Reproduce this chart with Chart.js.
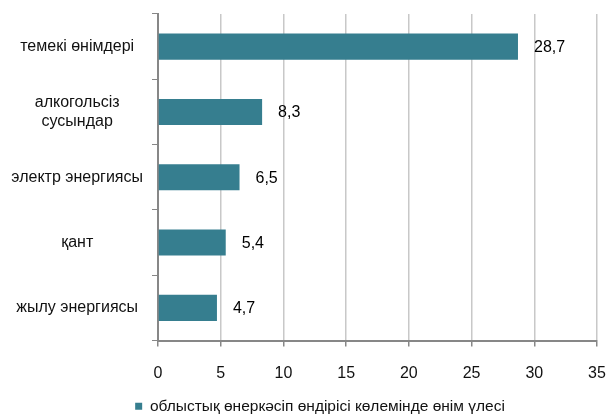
<!DOCTYPE html>
<html>
<head>
<meta charset="utf-8">
<script src="https://cdn.jsdelivr.net/npm/chart.js@4/dist/chart.umd.min.js"></script>
<style>
  html, body { margin: 0; padding: 0; background: #fff; }
  #wrap { width: 608px; height: 414px; }
</style>
</head>
<body>
<div id="wrap"><canvas id="shareChart" width="608" height="414"></canvas></div>
<script>
'use strict';

// ===== DONNÉES =====
const categories = ['темекі өнімдері', ['алкогольсіз', 'сусындар'], 'электр энергиясы', 'қант', 'жылу энергиясы'];
const shareValues = [28.7, 8.3, 6.5, 5.4, 4.7];
const seriesName = 'облыстық өнеркәсіп өндірісі көлемінде өнім үлесі';
const xTicks = [0, 5, 10, 15, 20, 25, 30, 35];

const FONT = '"Liberation Sans", Arial, sans-serif';

// ===== ÉTIQUETTES DE VALEUR =====
const valueLabels = {
    id: 'valueLabels',
    afterDatasetsDraw: function(chart) {
        const ctx = chart.ctx;
        const meta = chart.getDatasetMeta(0);
        ctx.save();
        ctx.font = '16px ' + FONT;
        ctx.fillStyle = '#000';
        ctx.textAlign = 'left';
        ctx.textBaseline = 'middle';
        meta.data.forEach(function(bar, i) {
            const txt = String(shareValues[i]).replace('.', ',');
            ctx.fillText(txt, bar.x + 16, bar.y + 1);
        });
        ctx.restore();
    }
};

// ===== LÉGENDE DÉCALÉE (centrée un peu à droite comme l'original) =====
const legendShift = {
    id: 'legendShift',
    afterLayout: function(chart) {
        if (chart.legend) {
            chart.legend.left += 16;
            chart.legend.right += 16;
        }
    }
};

new Chart(document.getElementById('shareChart'), {
    type: 'bar',
    data: {
        labels: categories,
        datasets: [{
            label: seriesName,
            data: shareValues,
            backgroundColor: '#367E8F',
            borderWidth: 0,
            barPercentage: 0.4,
            categoryPercentage: 1
        }]
    },
    options: {
        indexAxis: 'y',
        responsive: false,
        animation: false,
        layout: { padding: { top: 14, right: 0, left: 0, bottom: -10 } },
        plugins: {
            tooltip: { enabled: false },
            legend: {
                position: 'bottom',
                labels: {
                    boxWidth: 7,
                    boxHeight: 7,
                    padding: 1,
                    color: '#111',
                    font: { family: FONT, size: 15.5 }
                }
            }
        },
        scales: {
            x: {
                min: 0,
                max: 35,
                afterBuildTicks: function(scale) {
                    scale.ticks = xTicks.map(function(v) { return { value: v }; });
                },
                afterFit: function(scale) {
                    scale.height = 57;
                    scale.paddingLeft = 0;
                    scale.paddingRight = 11;
                },
                grid: {
                    color: '#c8c8c8',
                    lineWidth: 1.5,
                    tickColor: '#878787',
                    tickLength: 6
                },
                border: { color: '#878787', width: 2 },
                ticks: {
                    color: '#111',
                    padding: 17,
                    font: { family: FONT, size: 16 }
                }
            },
            y: {
                afterFit: function(scale) {
                    scale.width = 158;
                    scale.paddingTop = 0;
                    scale.paddingBottom = 0;
                },
                grid: {
                    drawOnChartArea: false,
                    tickColor: '#878787',
                    tickLength: 6
                },
                border: { color: '#878787', width: 2 },
                ticks: {
                    color: '#111',
                    crossAlign: 'center',
                    padding: 9,
                    font: { family: FONT, size: 16 }
                }
            }
        }
    },
    plugins: [valueLabels, legendShift]
});
</script>
</body>
</html>
